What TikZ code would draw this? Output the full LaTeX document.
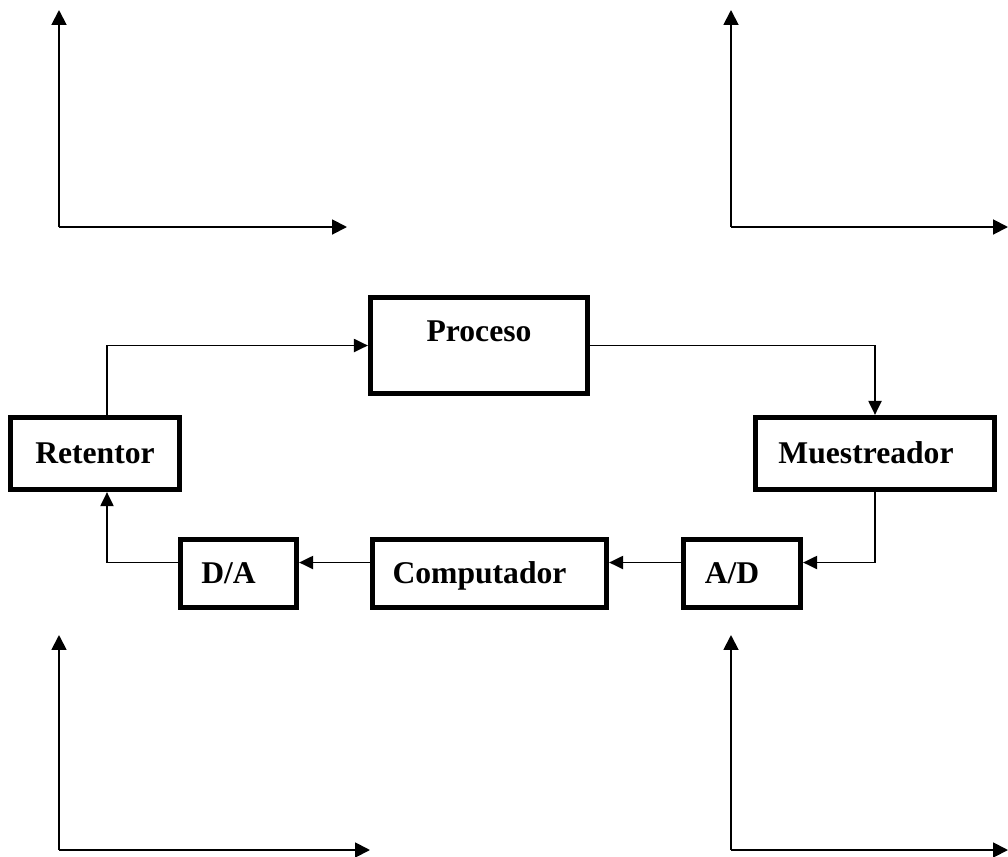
\documentclass[tikz,border=0pt]{standalone}
\usepackage{fontspec}
\setmainfont{Liberation Serif}
\usetikzlibrary{arrows.meta,positioning}

\begin{document}
\begin{tikzpicture}[
    x=0.02cm, y=-0.02cm,
    font=\fontsize{18}{20}\selectfont\bfseries,
    >={Triangle[length=8pt,width=7.5pt]},
    line width=1pt,
    block/.style={draw, line width=3pt, minimum height=1.36cm, text height=0.4cm, text depth=0cm, align=center},
    tall/.style={block, minimum height=1.44cm},
    axis/.style={line width=1.1pt, -{Triangle[length=8.5pt,width=8.5pt]}}
]
\useasboundingbox (0,0) rectangle (1008,856);

% plot frames
\coordinate (tlo) at (59,227);  \coordinate (tlup) at (59,10);  \coordinate (tlright) at (347,227);
\coordinate (tro) at (731,227); \coordinate (trup) at (731,10); \coordinate (trright) at (1008,227);
\coordinate (blo) at (59,850);  \coordinate (blup) at (59,635); \coordinate (blright) at (370,850);
\coordinate (bro) at (731,850); \coordinate (brup) at (731,635); \coordinate (brright) at (1008,850);
\draw[axis] (tlo) -- (tlup);
\draw[axis] (tlo) -- (tlright);
\draw[axis] (tro) -- (trup);
\draw[axis] (tro) -- (trright);
\draw[axis] (blo) -- (blup);
\draw[axis] (blo) -- (blright);
\draw[axis] (bro) -- (brup);
\draw[axis] (bro) -- (brright);

% loop blocks
\node[block, minimum width=4.34cm, minimum height=1.92cm, text depth=0.56cm] (proceso) at (479,345.5) {Proceso};
\node[tall, minimum width=3.38cm] (retentor) at (95,453.5) {Retentor};
\node[tall, minimum width=4.78cm] (muestreador) at (875,453.5) {Muestreador\hspace*{0.36cm}};
\node[block, minimum width=2.32cm] (da) at (238.5,573.5) {D/A\hspace*{0.4cm}};
\node[block, minimum width=4.68cm] (computador) at (489.5,573.5) {Computador\hspace*{0.4cm}};
\node[block, minimum width=2.34cm] (ad) at (742,573.5) {A/D\hspace*{0.4cm}};

\draw[->] ([xshift=0.24cm]retentor.north) |- (proceso.west);
\draw[->] (proceso.east) -| (muestreador.north);
\draw[->] (muestreador.south) |- ([yshift=0.22cm]ad.east);
\draw[->] ([yshift=0.22cm]ad.west) -- ([yshift=0.22cm]computador.east);
\draw[->] ([yshift=0.22cm]computador.west) -- ([yshift=0.22cm]da.east);
\draw[->] ([yshift=0.22cm]da.west) -| ([xshift=0.24cm]retentor.south);
\end{tikzpicture}
\end{document}
